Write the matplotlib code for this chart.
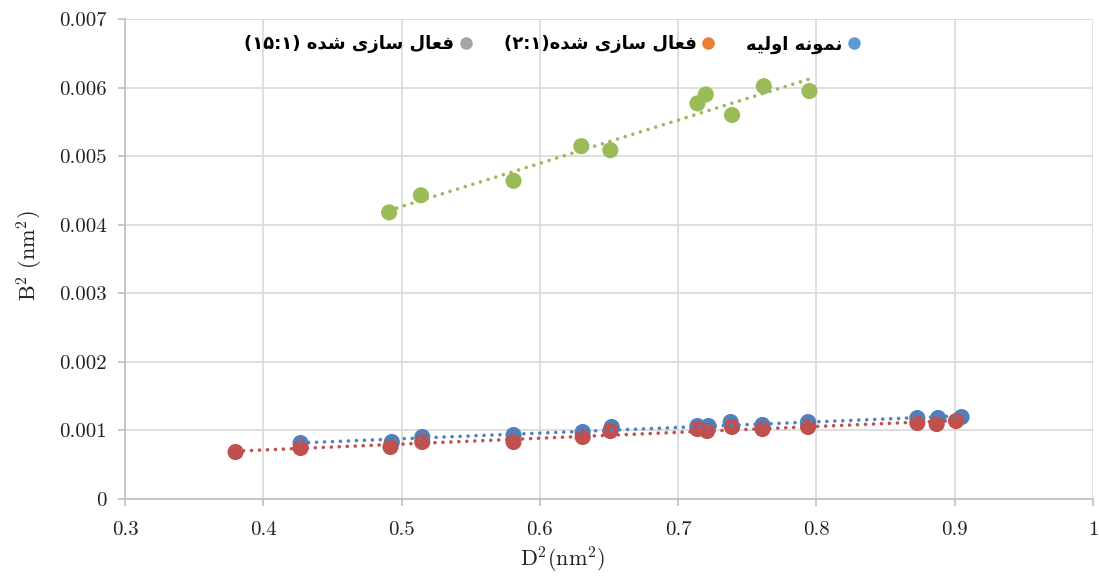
import numpy as np
import matplotlib.pyplot as plt
from matplotlib.lines import Line2D
from matplotlib.ticker import MultipleLocator, FuncFormatter

plt.rcParams['mathtext.fontset'] = 'cm'

# داده‌ها (خوانده شده از نمودار)
x_blue = [0.427, 0.493, 0.515, 0.581, 0.631, 0.652, 0.714, 0.722, 0.738, 0.761, 0.794, 0.873, 0.888, 0.905]
y_blue = [0.000816, 0.000831, 0.000904, 0.000933, 0.000977, 0.00105, 0.001064, 0.001064,
          0.001122, 0.001079, 0.001122, 0.001181, 0.001181, 0.001195]

x_red = [0.380, 0.427, 0.492, 0.515, 0.581, 0.631, 0.651, 0.714, 0.721, 0.739, 0.761, 0.794, 0.873, 0.887, 0.901]
y_red = [0.000685, 0.000743, 0.000758, 0.000831, 0.000831, 0.000904, 0.000991, 0.00102,
         0.000991, 0.00105, 0.00102, 0.00105, 0.001108, 0.001093, 0.001137]

x_green = [0.491, 0.514, 0.581, 0.630, 0.651, 0.714, 0.720, 0.739, 0.762, 0.795]
y_green = [0.00418, 0.00443, 0.00464, 0.005146, 0.005087, 0.00577, 0.0059, 0.0056, 0.00602, 0.00595]

# برچسب‌ها به ترتیب نمایشی (شکل‌های ارائه‌ای عربی، چون matplotlib متن راست‌به‌چپ را شکل نمی‌دهد)
# نمونه اولیه
label_blue = "\ufeea\ufbff\ufedf\ufeed\ufe8d \ufeea\ufee7\ufeee\ufee4\ufee7"
# فعال سازی شده(۲:۱)
label_red = "(\u06f2:\u06f1)\ufee9\ufeaa\ufeb7 \ufbfc\ufeaf\ufe8e\ufeb3 \ufedd\ufe8e\ufecc\ufed3"
# فعال سازی شده (۱۵:۱)
label_green = "(\u06f1\u06f5:\u06f1) \ufee9\ufeaa\ufeb7 \ufbfc\ufeaf\ufe8e\ufeb3 \ufedd\ufe8e\ufecc\ufed3"

series = [
    (x_blue, y_blue, "#4F81BD"),
    (x_red, y_red, "#C0504D"),
    (x_green, y_green, "#9BBB59"),
]

fig = plt.figure(figsize=(10.99, 5.77), dpi=100)
ax = fig.add_axes([0.1137, 0.1352, 0.8808, 0.8318])

for xs, ys, c in series:
    ax.scatter(xs, ys, s=135, color=c, edgecolors='none', zorder=3)

# خطوط روند (خطی)
for xs, ys, c in series:
    k, b = np.polyfit(xs, ys, 1)
    xx = np.array([min(xs), max(xs)])
    ax.plot(xx, k * xx + b, color=c, lw=2.6, linestyle=(0, (0.01, 2.2)),
            dash_capstyle='round', zorder=4)

ax.set_xlim(0.3, 1.0)
ax.set_ylim(0, 0.007)
ax.xaxis.set_major_locator(MultipleLocator(0.1))
ax.yaxis.set_major_locator(MultipleLocator(0.001))
ax.xaxis.set_major_formatter(FuncFormatter(lambda v, p: f"{v:g}"))
ax.yaxis.set_major_formatter(FuncFormatter(lambda v, p: f"{round(v, 4):g}"))

ax.grid(True, color='#D9D9D9', lw=1.2, zorder=0)
ax.set_axisbelow(True)
for s in ['top', 'right']:
    ax.spines[s].set_visible(False)
for s in ['left', 'bottom']:
    ax.spines[s].set_color('#BFBFBF')
    ax.spines[s].set_linewidth(1.2)
ax.tick_params(colors='#BFBFBF', length=5, width=1.2, labelcolor='#222222',
               labelsize=15)
ax.tick_params(axis='x', pad=11)
ax.tick_params(axis='y', pad=8)
for t in ax.get_xticklabels() + ax.get_yticklabels():
    t.set_family('cmr10')

fig.text(563 / 1099, 1 - 560 / 577, r"$\mathrm{D^2(nm^2)}$", fontsize=16,
         color='#222222', ha='center', va='center')
fig.text(30 / 1099, 1 - 256 / 577, r"$\mathrm{B^2\ (nm^2)}$", fontsize=16,
         color='#222222', ha='center', va='center', rotation=90)

handles = [
    Line2D([], [], marker='o', ls='none', color='#A5A5A5', markersize=8),
    Line2D([], [], marker='o', ls='none', color='#ED7D31', markersize=8),
    Line2D([], [], marker='o', ls='none', color='#5B9BD5', markersize=8),
]
leg = ax.legend(handles, [label_green, label_red, label_blue], ncol=3,
                loc='center', bbox_to_anchor=(0.443, 0.947), frameon=False,
                markerfirst=False, handletextpad=0.15, columnspacing=1.6,
                handlelength=1.0,
                prop={'family': ['DejaVu Sans'], 'weight': 'bold', 'size': 13})

fig.savefig("out.png", dpi=100)
